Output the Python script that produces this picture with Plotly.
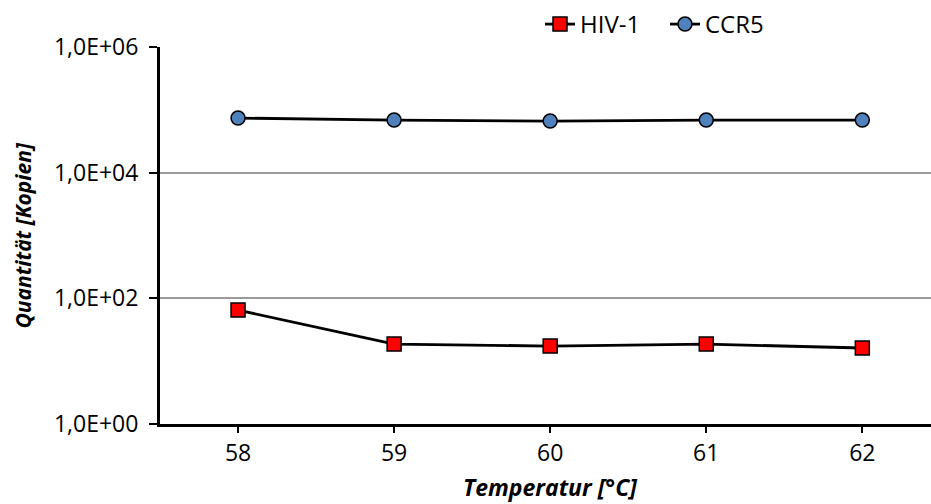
import plotly.graph_objects as go

temperatures = ["58", "59", "60", "61", "62"]
hiv1 = [65, 18.7, 17.4, 18.7, 16.2]
ccr5 = [74000, 68700, 66200, 68700, 68700]
y_tickvals = [1, 100, 10000, 1000000]
y_ticktext = ["1,0E+00", "1,0E+02", "1,0E+04", "1,0E+06"]

FONT = "Open Sans"
fig = go.Figure()
fig.add_trace(go.Scatter(
    x=temperatures, y=hiv1, name="HIV-1", mode="lines+markers",
    line=dict(color="black", width=2.8),
    marker=dict(symbol="square", size=14, color="#FF0000", line=dict(color="black", width=1.5)),
))
fig.add_trace(go.Scatter(
    x=temperatures, y=ccr5, name="CCR5", mode="lines+markers",
    line=dict(color="black", width=2.8),
    marker=dict(symbol="circle", size=14, color="#4F81BD", line=dict(color="black", width=1.5)),
))

fig.update_layout(
    width=931, height=504,
    margin=dict(l=160, r=0, t=47, b=80, autoexpand=False),
    paper_bgcolor="white", plot_bgcolor="white",
    font=dict(family=FONT, size=24, color="black"),
    showlegend=True,
    legend=dict(orientation="h", x=(540 - 160) / 771, xanchor="left", y=1.0, yanchor="bottom",
                font=dict(size=24), bgcolor="rgba(0,0,0,0)",
                entrywidth=80, entrywidthmode="pixels", tracegroupgap=0),
)
fig.update_xaxes(
    type="category", range=[-0.5, 4.44],
    showline=True, linecolor="black", linewidth=3,
    ticks="outside", ticklen=6, tickwidth=2, tickcolor="black",
    showgrid=False, zeroline=False,
    tickfont=dict(size=23),
)
fig.update_yaxes(
    type="log", range=[0, 6],
    tickvals=y_tickvals, ticktext=y_ticktext,
    showline=True, linecolor="black", linewidth=3,
    ticks="outside", ticklen=8, tickwidth=2, tickcolor="black",
    showgrid=True, gridcolor="#9a9a9a", gridwidth=2,
    zeroline=False, tickfont=dict(size=23), ticklabelstandoff=6,
)
fig.add_annotation(text="<b><i>Temperatur [°C]</i></b>", xref="paper", yref="paper",
                   x=(550 - 160) / 771, y=-(487 - 424) / 377, xanchor="center", yanchor="middle",
                   showarrow=False, font=dict(size=23))
fig.add_annotation(text="<b><i>Quantität [Kopien]</i></b>", xref="paper", yref="paper",
                   x=-(160 - 22) / 771, y=0.5, xanchor="center", yanchor="middle",
                   textangle=-90, showarrow=False, font=dict(size=21))

fig.write_html("out.html", config={"displayModeBar": False},
               post_script="document.body.style.margin='0';document.body.style.overflow='hidden';")
